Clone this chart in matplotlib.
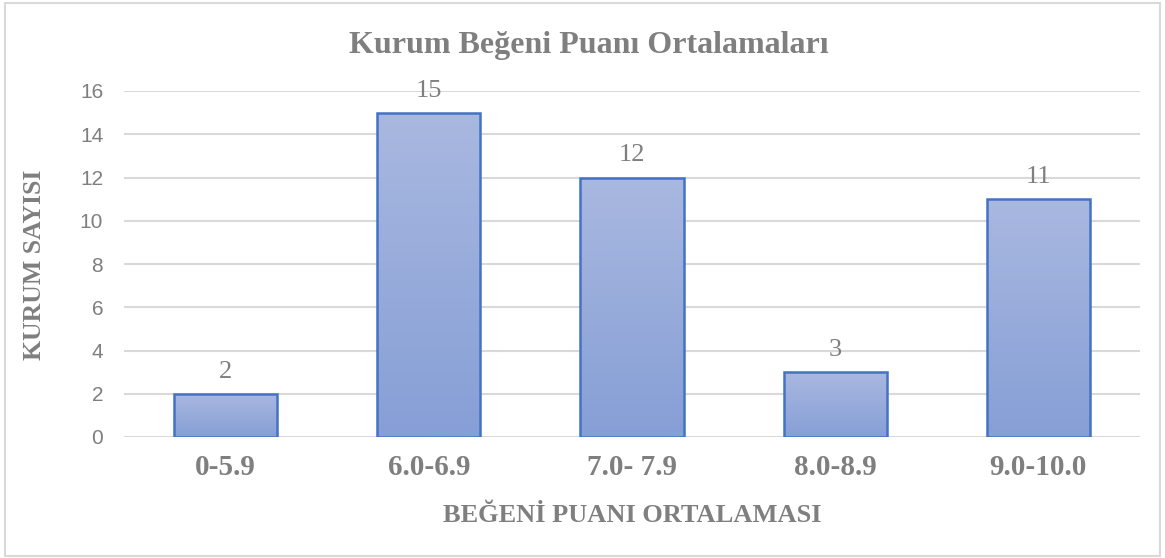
import numpy as np
import matplotlib.pyplot as plt
from matplotlib.colors import LinearSegmentedColormap
from matplotlib.patches import Rectangle

categories = ["0-5.9", "6.0-6.9", "7.0- 7.9", "8.0-8.9", "9.0-10.0"]
counts = [2, 15, 12, 3, 11]
yticks = [0, 2, 4, 6, 8, 10, 12, 14, 16]

serif = "Liberation Serif"
sans = "Liberation Sans"
grey = "#7F7F7F"

W, H = 1165, 558
fig = plt.figure(figsize=(W / 100, H / 100), dpi=100)
fig.patches.append(Rectangle((0.004, 0.004), 0.992, 0.99, transform=fig.transFigure,
                             fill=False, edgecolor="#D9D9D9", linewidth=1.5))
ax = fig.add_axes([124 / W, 1 - 437 / H, 1016 / W, 346 / H])

x = np.arange(len(categories))
bars = ax.bar(x, counts, width=0.507, color="none", edgecolor="#4472C4", linewidth=1.8, zorder=3)

# vertical gradient inside each bar
cmap = LinearSegmentedColormap.from_list("bar", ["#869FD6", "#A9B8E0"])
grad = np.linspace(0, 1, 256).reshape(-1, 1)
for b in bars:
    x0, y0 = b.get_x(), b.get_y()
    w, h = b.get_width(), b.get_height()
    im = ax.imshow(grad, cmap=cmap, origin="lower", aspect="auto",
                   extent=[x0, x0 + w, y0, y0 + h], zorder=2)
    im.set_clip_path(b)

for xi, v in zip(x, counts):
    ax.annotate(str(v), (xi, v), xytext=(0, 8), textcoords="offset points",
                ha="center", va="bottom", fontsize=19, family=serif, color=grey)

ax.set_xlim(-0.5, len(categories) - 0.5)
ax.set_ylim(0, 16)
ax.set_yticks(yticks)
ax.yaxis.grid(True, color="#D9D9D9", linewidth=1.5, zorder=0)
ax.set_axisbelow(True)
for s in ax.spines.values():
    s.set_visible(False)
ax.tick_params(length=0)
ax.tick_params(axis="y", labelsize=15, labelcolor=grey, pad=15)
ax.set_yticklabels([str(t) for t in yticks], family=sans)
ax.set_xticks(x)
ax.set_xticklabels(categories, family=serif, fontsize=21, fontweight="bold", color=grey)
ax.tick_params(axis="x", pad=12)

fig.text((124 + 508) / W, 1 - 515 / H, "BEĞENİ PUANI ORTALAMASI", ha="center", va="center",
         family=serif, fontsize=19, fontweight="bold", color=grey)
fig.text(35 / W, 1 - 265 / H, "KURUM SAYISI", ha="center", va="center", rotation=90,
         family=serif, fontsize=18.5, fontweight="bold", color=grey)
fig.text(589 / W, 1 - 45 / H, "Kurum Beğeni Puanı Ortalamaları", ha="center", va="center",
         family=serif, fontsize=23, fontweight="bold", color=grey)

fig.savefig("out.png", dpi=100)
